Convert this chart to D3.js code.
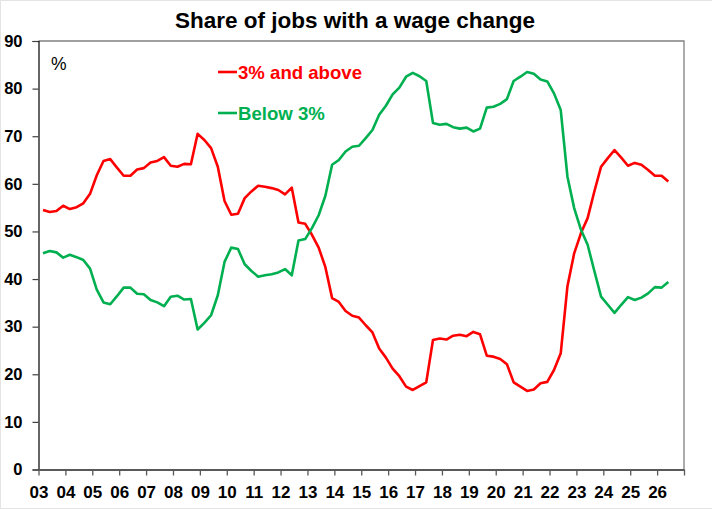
<!DOCTYPE html>
<html lang="en">
<head>
    <meta charset="UTF-8">
    <title>Share of jobs with a wage change</title>
    <script src="https://cdn.jsdelivr.net/npm/d3@7"></script>
    <style>
        body {
            margin: 0;
            padding: 0;
            background: #fff;
        }
        svg text {
            font-family: Arial, "Liberation Sans", sans-serif;
        }
    </style>
</head>
<body>
    <div id="chart"></div>

    <script>
        // quarterly observations, Mar 2003 to Jun 2026
        const firstQuarter = 2003 + 2 / 12;
        const quarterCount = 94;

        const aboveThree = [
            54.5, 54.1, 54.3, 55.4, 54.7, 55.1, 55.9, 57.9, 61.8, 64.8,
            65.2, 63.4, 61.7, 61.7, 63.0, 63.3, 64.5, 64.8, 65.6, 63.8,
            63.6, 64.2, 64.1, 70.5, 69.2, 67.5, 63.6, 56.4, 53.5, 53.7,
            57.0, 58.4, 59.6, 59.4, 59.1, 58.7, 57.8, 59.2, 51.9, 51.6,
            49.3, 46.6, 42.5, 36.0, 35.2, 33.3, 32.3, 31.9, 30.3, 28.8,
            25.4, 23.5, 21.2, 19.6, 17.4, 16.7, 17.5, 18.3, 27.2, 27.5,
            27.3, 28.1, 28.3, 28.0, 28.9, 28.4, 23.9, 23.7, 23.2, 22.1,
            18.3, 17.4, 16.5, 16.8, 18.1, 18.4, 20.9, 24.4, 38.5, 45.4,
            49.6, 52.8, 58.4, 63.6, 65.4, 67.1, 65.5, 63.8, 64.4, 64.0,
            62.9, 61.7, 61.7, 60.5
        ];

        const belowThree = [
            45.4, 45.9, 45.6, 44.5, 45.1, 44.6, 44.0, 42.2, 37.8, 35.1,
            34.7, 36.4, 38.2, 38.2, 36.9, 36.8, 35.6, 35.1, 34.3, 36.3,
            36.5, 35.7, 35.8, 29.4, 30.8, 32.4, 36.6, 43.6, 46.6, 46.3,
            43.1, 41.7, 40.5, 40.8, 41.0, 41.4, 42.1, 40.8, 48.1, 48.4,
            50.7, 53.4, 57.5, 64.0, 65.0, 66.8, 67.8, 68.0, 69.6, 71.3,
            74.5, 76.4, 78.8, 80.2, 82.5, 83.3, 82.6, 81.6, 72.8, 72.4,
            72.6, 71.9, 71.6, 71.8, 71.0, 71.6, 76.0, 76.2, 76.8, 77.8,
            81.6, 82.5, 83.5, 83.1, 81.9, 81.5, 79.0, 75.5, 61.5, 54.9,
            50.4, 47.2, 41.7, 36.3, 34.6, 32.9, 34.6, 36.2, 35.6, 36.1,
            37.0, 38.3, 38.2, 39.4
        ];

        const yearTicks = d3.range(2003, 2028);
        const yearLabels = ["03", "04", "05", "06", "07", "08", "09", "10", "11", "12", "13", "14",
            "15", "16", "17", "18", "19", "20", "21", "22", "23", "24", "25", "26", ""];
        const valueTicks = [0, 10, 20, 30, 40, 50, 60, 70, 80, 90];

        const seriesNames = ["3% and above", "Below 3%"];
        const seriesColors = ["#ff0000", "#00b050"];

        const quarters = d3.range(quarterCount).map(i => firstQuarter + i * 0.25);

        const width = 712;
        const height = 509;
        const margin = { top: 41, right: 28, bottom: 39.5, left: 38.5 };

        const svg = d3.select("#chart")
            .append("svg")
            .attr("width", width)
            .attr("height", height);

        // faint chart-area frame
        svg.append("rect")
            .attr("x", 0.5)
            .attr("y", 0.5)
            .attr("width", width + 10)
            .attr("height", height - 1)
            .attr("fill", "none")
            .attr("stroke", "#e4e4e4");

        const x = d3.scaleLinear()
            .domain([2003, 2027])
            .range([margin.left, width - margin.right]);

        const y = d3.scaleLinear()
            .domain([0, 90])
            .range([height - margin.bottom, margin.top]);

        // plot area border (top and right)
        svg.append("path")
            .attr("d", `M${x(2003)},${y(90)}H${x(2027)}V${y(0)}`)
            .attr("fill", "none")
            .attr("stroke", "#808080")
            .attr("stroke-width", 1.3);

        // y axis
        const yAxis = svg.append("g")
            .attr("transform", `translate(${x(2003)},0)`)
            .call(d3.axisLeft(y).tickValues(valueTicks).tickSize(6).tickPadding(10));
        yAxis.select(".domain").attr("stroke", "#000").attr("stroke-width", 1.2);
        yAxis.selectAll(".tick line").attr("stroke", "#404040").attr("stroke-width", 1.2);
        yAxis.selectAll(".tick text")
            .attr("fill", "#000")
            .style("font-size", "16.5px")
            .style("font-weight", "bold");

        // x axis
        const xAxis = svg.append("g")
            .attr("transform", `translate(0,${y(0)})`)
            .call(d3.axisBottom(x)
                .tickValues(yearTicks)
                .tickFormat((d, i) => yearLabels[i])
                .tickSize(6)
                .tickPadding(10)
                .tickSizeOuter(0));
        xAxis.select(".domain").attr("stroke", "#595959").attr("stroke-width", 2);
        xAxis.selectAll(".tick line").attr("stroke", "#595959").attr("stroke-width", 1.3);
        xAxis.selectAll(".tick text")
            .attr("fill", "#000")
            .style("font-size", "17px")
            .style("font-weight", "bold");

        // lines
        const line = d3.line()
            .x((d, i) => x(quarters[i]))
            .y(d => y(d));

        [aboveThree, belowThree].forEach((series, i) => {
            svg.append("path")
                .datum(series)
                .attr("d", line)
                .attr("fill", "none")
                .attr("stroke", seriesColors[i])
                .attr("stroke-width", 2.6)
                .attr("stroke-linejoin", "round");
        });

        // title
        svg.append("text")
            .attr("x", 355)
            .attr("y", 28)
            .attr("text-anchor", "middle")
            .style("font-size", "22.5px")
            .style("font-weight", "bold")
            .attr("fill", "#000")
            .text("Share of jobs with a wage change");

        // unit label
        svg.append("text")
            .attr("x", 51)
            .attr("y", 70)
            .style("font-size", "17.5px")
            .attr("fill", "#000")
            .text("%");

        // legend
        const legendY = [72, 113];
        seriesNames.forEach((name, i) => {
            svg.append("line")
                .attr("x1", 218)
                .attr("x2", 237)
                .attr("y1", legendY[i])
                .attr("y2", legendY[i])
                .attr("stroke", seriesColors[i])
                .attr("stroke-width", 2.6);
            svg.append("text")
                .attr("x", 238)
                .attr("y", legendY[i] + 6.5)
                .style("font-size", "18.6px")
                .style("font-weight", "bold")
                .attr("fill", seriesColors[i])
                .text(name);
        });
    </script>
</body>
</html>
